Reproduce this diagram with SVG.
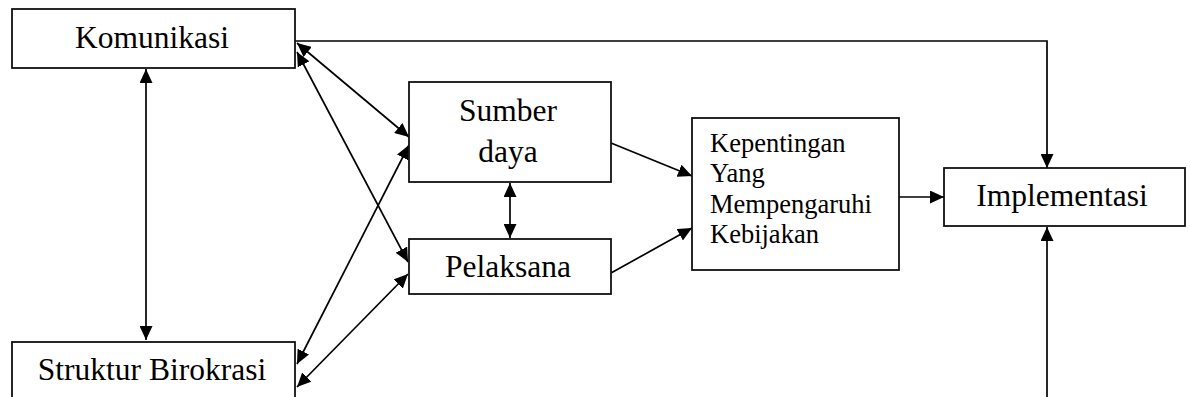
<svg xmlns="http://www.w3.org/2000/svg" width="1190" height="397" viewBox="0 0 1190 397">
<defs>
<marker id="ah" viewBox="0 0 14 13" refX="14" refY="6.5" markerWidth="14" markerHeight="13" markerUnits="userSpaceOnUse" orient="auto-start-reverse">
<path d="M0,0 L14,6.5 L0,13 Z" fill="#000"/>
</marker>
<style>
.box{fill:#fff;stroke:#111;stroke-width:1.8}
.t{font-family:"Liberation Serif","Times New Roman",serif;font-size:31.5px;fill:#000}
.s{font-family:"Liberation Serif","Times New Roman",serif;font-size:26.5px;fill:#000}
.c{fill:none;stroke:#000;stroke-width:1.7}
</style>
</defs>
<rect width="1190" height="397" fill="#fff"/>
<g id="connectors">
<polyline class="c" points="295,41 1047,41 1047,168" marker-end="url(#ah)"/>
<line class="c" x1="1047" y1="397" x2="1047" y2="227" marker-end="url(#ah)"/>
<line class="c" x1="146" y1="69" x2="146" y2="340" marker-start="url(#ah)" marker-end="url(#ah)"/>
<line class="c" x1="510" y1="183" x2="510" y2="238" marker-start="url(#ah)" marker-end="url(#ah)"/>
<line class="c" x1="297" y1="43" x2="409" y2="137" marker-start="url(#ah)" marker-end="url(#ah)"/>
<line class="c" x1="297" y1="52" x2="408" y2="262" marker-start="url(#ah)" marker-end="url(#ah)"/>
<line class="c" x1="297" y1="364" x2="409" y2="145" marker-start="url(#ah)" marker-end="url(#ah)"/>
<line class="c" x1="297" y1="387" x2="408" y2="274" marker-start="url(#ah)" marker-end="url(#ah)"/>
<line class="c" x1="611" y1="143" x2="692" y2="176" marker-end="url(#ah)"/>
<line class="c" x1="611" y1="273" x2="692" y2="228" marker-end="url(#ah)"/>
<line class="c" x1="899" y1="197" x2="944" y2="197" marker-end="url(#ah)"/>
</g>
<g id="komunikasi">
<rect class="box" x="12" y="9" width="283" height="59"/>
<text class="t" x="152" y="48" text-anchor="middle">Komunikasi</text>
</g>
<g id="struktur">
<rect class="box" x="12" y="342" width="283" height="70"/>
<text class="t" x="152" y="380" text-anchor="middle">Struktur Birokrasi</text>
</g>
<g id="sumberdaya">
<rect class="box" x="409" y="82" width="202" height="100"/>
<text class="t" x="508" y="121" text-anchor="middle">Sumber</text>
<text class="t" x="508" y="162" text-anchor="middle">daya</text>
</g>
<g id="pelaksana">
<rect class="box" x="409" y="239" width="202" height="55"/>
<text class="t" x="508" y="277" text-anchor="middle">Pelaksana</text>
</g>
<g id="kepentingan">
<rect class="box" x="692" y="118" width="207" height="152"/>
<text class="s" x="710" y="152">Kepentingan</text>
<text class="s" x="710" y="182">Yang</text>
<text class="s" x="710" y="213">Mempengaruhi</text>
<text class="s" x="710" y="243">Kebijakan</text>
</g>
<g id="implementasi">
<rect class="box" x="944" y="168" width="241" height="58"/>
<text class="t" x="1062" y="206" text-anchor="middle">Implementasi</text>
</g>
</svg>
